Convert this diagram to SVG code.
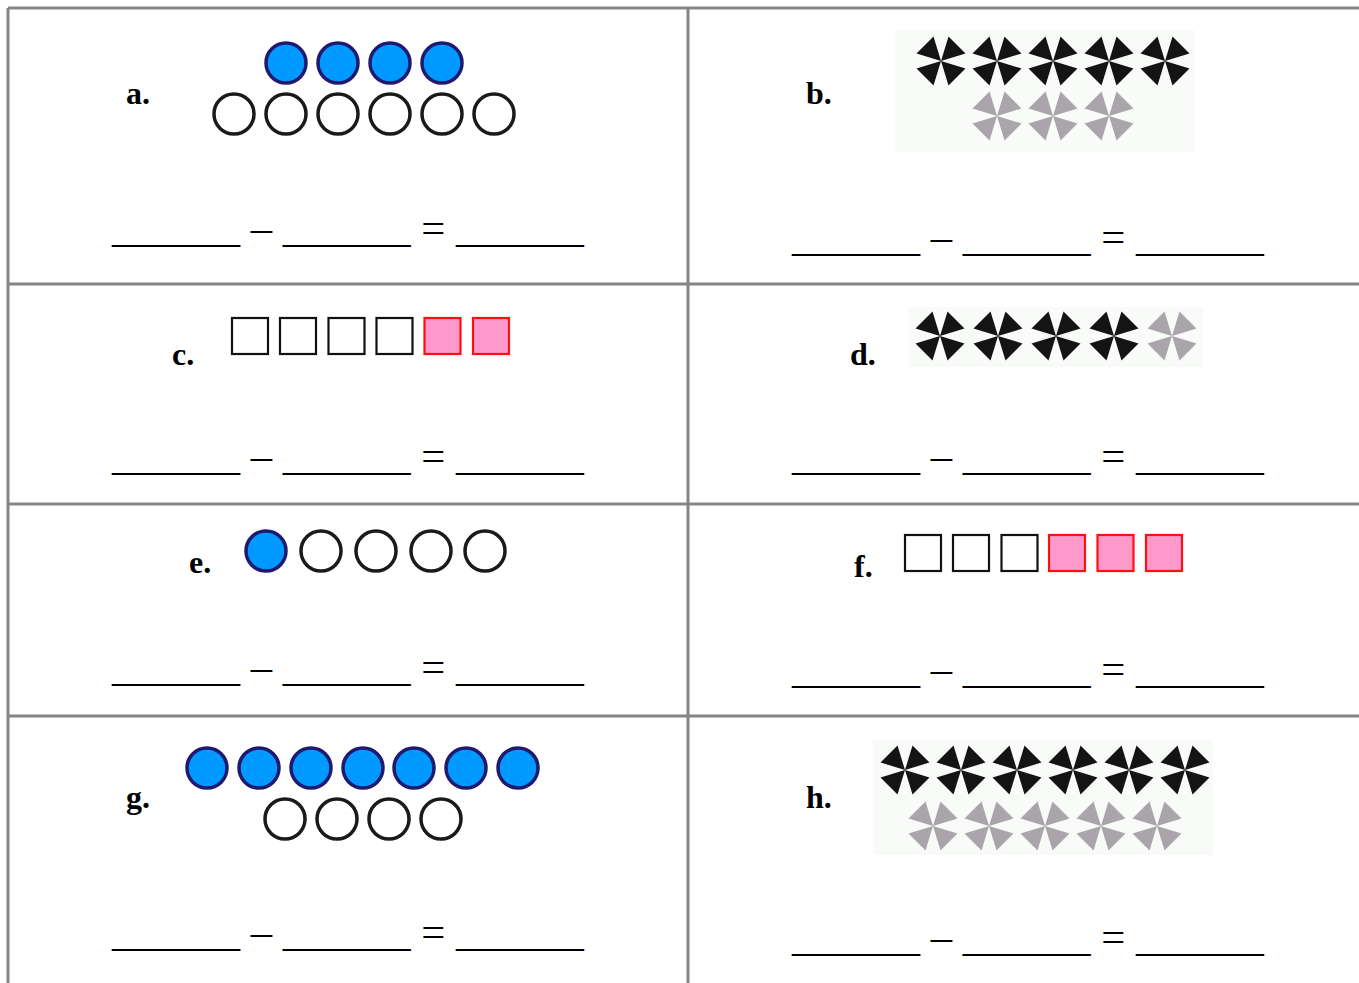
<svg xmlns="http://www.w3.org/2000/svg" xmlns:xlink="http://www.w3.org/1999/xlink" width="1359" height="983" viewBox="0 0 1359 983">
<style>
.grid{stroke:#858585;stroke-width:3;fill:none}
.lbl{font-family:"Liberation Serif","Times New Roman",serif;font-weight:bold;font-size:32px;fill:#000}
.eq{font-family:"Liberation Serif","Times New Roman",serif;font-size:42.67px;fill:#000}
.blue{fill:#0099ff;stroke:#1f1a70;stroke-width:3.5}
.open{fill:#fff;stroke:#1a1a1a;stroke-width:3.5}
.sq{fill:#fff;stroke:#111;stroke-width:2.2}
.pk{fill:#ff99cc;stroke:#ff1010;stroke-width:2.2}
.bk{fill:#141414}
.gy{fill:#aaa5aa}
.bg{fill:#f9fbf9}
</style>
<defs>
<path id="star" d="M0,0 L-7.5,-24.5 L-24.5,-7.5 Z M0,0 L7.5,-24.5 L24.5,-7.5 Z M0,0 L-7.5,24.5 L-24.5,7.5 Z M0,0 L7.5,24.5 L24.5,7.5 Z"/>
</defs>
<rect width="1359" height="983" fill="#fff"/>
<g id="grid">
<line class="grid" x1="8" y1="8" x2="1359" y2="8" stroke-width="3.5"/>
<line class="grid" x1="8" y1="8" x2="8" y2="983" stroke-width="3.5"/>
<line class="grid" x1="688" y1="8" x2="688" y2="983"/>
<line class="grid" x1="8" y1="284" x2="1359" y2="284"/>
<line class="grid" x1="8" y1="504" x2="1359" y2="504"/>
<line class="grid" x1="8" y1="716" x2="1359" y2="716"/>
</g>
<g id="cell-a">
<text class="lbl" x="126" y="104">a.</text>
<circle class="blue" cx="286" cy="63" r="20"/>
<circle class="blue" cx="338" cy="63" r="20"/>
<circle class="blue" cx="390" cy="63" r="20"/>
<circle class="blue" cx="442" cy="63" r="20"/>
<circle class="open" cx="234" cy="114" r="20"/>
<circle class="open" cx="286" cy="114" r="20"/>
<circle class="open" cx="338" cy="114" r="20"/>
<circle class="open" cx="390" cy="114" r="20"/>
<circle class="open" cx="442" cy="114" r="20"/>
<circle class="open" cx="494" cy="114" r="20"/>
<text class="eq" x="112" y="242">______ – ______ = ______</text>
</g>
<g id="cell-b">
<text class="lbl" x="806" y="104">b.</text>
<rect class="bg" x="895" y="30" width="300" height="122"/>
<use xlink:href="#star" class="bk" x="941" y="61"/>
<use xlink:href="#star" class="bk" x="997" y="61"/>
<use xlink:href="#star" class="bk" x="1053" y="61"/>
<use xlink:href="#star" class="bk" x="1109" y="61"/>
<use xlink:href="#star" class="bk" x="1165" y="61"/>
<use xlink:href="#star" class="gy" x="997" y="116"/>
<use xlink:href="#star" class="gy" x="1053" y="116"/>
<use xlink:href="#star" class="gy" x="1109" y="116"/>
<text class="eq" x="792" y="251">______ – ______ = ______</text>
</g>
<g id="cell-c">
<text class="lbl" x="172" y="365">c.</text>
<rect class="sq" x="232" y="318" width="36" height="36"/>
<rect class="sq" x="280" y="318" width="36" height="36"/>
<rect class="sq" x="328.5" y="318" width="36" height="36"/>
<rect class="sq" x="376.5" y="318" width="36" height="36"/>
<rect class="pk" x="424.5" y="318" width="36" height="36"/>
<rect class="pk" x="473" y="318" width="36" height="36"/>
<text class="eq" x="112" y="470">______ – ______ = ______</text>
</g>
<g id="cell-d">
<text class="lbl" x="850" y="365">d.</text>
<rect class="bg" x="908" y="307" width="295" height="60"/>
<use xlink:href="#star" class="bk" x="940" y="336"/>
<use xlink:href="#star" class="bk" x="998" y="336"/>
<use xlink:href="#star" class="bk" x="1056" y="336"/>
<use xlink:href="#star" class="bk" x="1114" y="336"/>
<use xlink:href="#star" class="gy" x="1172" y="336"/>
<text class="eq" x="792" y="470">______ – ______ = ______</text>
</g>
<g id="cell-e">
<text class="lbl" x="189" y="573">e.</text>
<circle class="blue" cx="266" cy="551" r="20"/>
<circle class="open" cx="321" cy="551" r="20"/>
<circle class="open" cx="376" cy="551" r="20"/>
<circle class="open" cx="431" cy="551" r="20"/>
<circle class="open" cx="485" cy="551" r="20"/>
<text class="eq" x="112" y="681">______ – ______ = ______</text>
</g>
<g id="cell-f">
<text class="lbl" x="854" y="577">f.</text>
<rect class="sq" x="905" y="535" width="36" height="36"/>
<rect class="sq" x="953" y="535" width="36" height="36"/>
<rect class="sq" x="1001.5" y="535" width="36" height="36"/>
<rect class="pk" x="1049" y="535" width="36" height="36"/>
<rect class="pk" x="1097.5" y="535" width="36" height="36"/>
<rect class="pk" x="1146" y="535" width="36" height="36"/>
<text class="eq" x="792" y="683">______ – ______ = ______</text>
</g>
<g id="cell-g">
<text class="lbl" x="126" y="808">g.</text>
<circle class="blue" cx="207" cy="768" r="20"/>
<circle class="blue" cx="259" cy="768" r="20"/>
<circle class="blue" cx="311" cy="768" r="20"/>
<circle class="blue" cx="363" cy="768" r="20"/>
<circle class="blue" cx="414" cy="768" r="20"/>
<circle class="blue" cx="466" cy="768" r="20"/>
<circle class="blue" cx="518" cy="768" r="20"/>
<circle class="open" cx="285" cy="819" r="20"/>
<circle class="open" cx="337" cy="819" r="20"/>
<circle class="open" cx="389" cy="819" r="20"/>
<circle class="open" cx="441" cy="819" r="20"/>
<text class="eq" x="112" y="946">______ – ______ = ______</text>
</g>
<g id="cell-h">
<text class="lbl" x="806" y="808">h.</text>
<rect class="bg" x="873" y="740" width="340" height="115"/>
<use xlink:href="#star" class="bk" x="905" y="770"/>
<use xlink:href="#star" class="bk" x="961" y="770"/>
<use xlink:href="#star" class="bk" x="1017" y="770"/>
<use xlink:href="#star" class="bk" x="1073" y="770"/>
<use xlink:href="#star" class="bk" x="1129" y="770"/>
<use xlink:href="#star" class="bk" x="1185" y="770"/>
<use xlink:href="#star" class="gy" x="933" y="826"/>
<use xlink:href="#star" class="gy" x="989" y="826"/>
<use xlink:href="#star" class="gy" x="1045" y="826"/>
<use xlink:href="#star" class="gy" x="1101" y="826"/>
<use xlink:href="#star" class="gy" x="1157" y="826"/>
<text class="eq" x="792" y="951">______ – ______ = ______</text>
</g>
</svg>
